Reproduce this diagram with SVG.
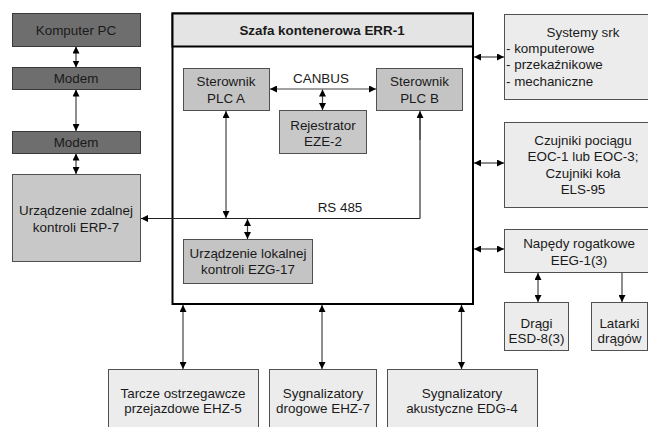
<svg xmlns="http://www.w3.org/2000/svg" width="648" height="427" viewBox="0 0 648 427">
<defs>
<marker id="ah" viewBox="0 0 10 10" refX="10" refY="5" markerWidth="7" markerHeight="7" orient="auto-start-reverse" markerUnits="userSpaceOnUse">
<path d="M0,0 L10,5 L0,10 z" fill="#000"/>
</marker>
<style>
text{font-family:"Liberation Sans",Arial,sans-serif;font-size:13.4px;fill:#1a1a1a;text-anchor:middle}
.dark{fill:#6e6e6e;stroke:#3a3a3a;stroke-width:1}
.mid{fill:#c4c4c4;stroke:#505050;stroke-width:1}
.light{fill:#ececec;stroke:#505050;stroke-width:1}
.c{fill:none;stroke:#444;stroke-width:1.2}
.b{marker-start:url(#ah);marker-end:url(#ah)}
.e{marker-end:url(#ah)}
.l{text-anchor:start}
</style>
</defs>
<rect width="648" height="427" fill="#fff"/>
<g id="main">
<rect x="172.5" y="13.5" width="300.5" height="290.5" fill="#fff" stroke="#000" stroke-width="2"/>
<rect x="172.5" y="13.5" width="300.5" height="33" fill="#e4e4e4" stroke="#000" stroke-width="2"/>
<text x="322" y="35" font-weight="bold">Szafa kontenerowa ERR-1</text>
</g>
<g id="pc"><rect class="dark" x="12.5" y="13.5" width="128" height="33"/><text x="76" y="34.5">Komputer PC</text></g>
<g id="modem1"><rect class="dark" x="12.5" y="67.5" width="128" height="22"/><text x="76" y="83">Modem</text></g>
<g id="modem2"><rect class="dark" x="12.5" y="131.5" width="128" height="22" fill="#787878"/><text x="76" y="147">Modem</text></g>
<g id="erp7"><rect class="mid" x="12.5" y="174.5" width="128" height="87" style="fill:#c8c8c8"/><text x="76" y="215">Urządzenie zdalnej</text><text x="76" y="232">kontroli ERP-7</text></g>
<g id="plca"><rect class="mid" x="183.5" y="68.5" width="86" height="42"/><text x="226" y="86">Sterownik</text><text x="226" y="103">PLC A</text></g>
<g id="plcb"><rect class="mid" x="376.5" y="68.5" width="86" height="42"/><text x="419.5" y="86">Sterownik</text><text x="419.5" y="103">PLC B</text></g>
<g id="eze2"><rect class="mid" x="279.5" y="110.5" width="87" height="43" style="fill:#c8c8c8"/><text x="323" y="130">Rejestrator</text><text x="323" y="146">EZE-2</text></g>
<g id="ezg17"><rect class="mid" x="183.5" y="239.5" width="129" height="44"/><text x="248" y="258">Urządzenie lokalnej</text><text x="248" y="274">kontroli EZG-17</text></g>
<g id="srk"><rect class="light" x="504.5" y="14.5" width="160" height="85"/><text x="583" y="37">Systemy srk</text><text class="l" x="506" y="53">- komputerowe</text><text class="l" x="506" y="69">- przekaźnikowe</text><text class="l" x="506" y="86">- mechaniczne</text></g>
<g id="eoc"><rect class="light" x="504.5" y="122.5" width="160" height="85"/><text x="583" y="145">Czujniki pociągu</text><text x="583" y="161">EOC-1 lub EOC-3;</text><text x="583" y="177.5">Czujniki koła</text><text x="583" y="194">ELS-95</text></g>
<g id="eeg"><rect class="light" x="504.5" y="229.5" width="160" height="43"/><text x="579" y="248">Napędy rogatkowe</text><text x="579" y="265">EEG-1(3)</text></g>
<g id="esd"><rect class="light" x="504.5" y="302.5" width="64" height="48"/><text x="536.5" y="328">Drągi</text><text x="536.5" y="343">ESD-8(3)</text></g>
<g id="latarki"><rect class="light" x="591.5" y="302.5" width="56" height="48"/><text x="619.5" y="328">Latarki</text><text x="619.5" y="343">drągów</text></g>
<g id="ehz5"><rect class="light" x="108.5" y="369.5" width="150" height="70"/><text x="183" y="398">Tarcze ostrzegawcze</text><text x="183" y="413">przejazdowe EHZ-5</text></g>
<g id="ehz7"><rect class="light" x="269.5" y="369.5" width="107" height="70"/><text x="323" y="398">Sygnalizatory</text><text x="323" y="413">drogowe EHZ-7</text></g>
<g id="edg4"><rect class="light" x="387.5" y="369.5" width="150" height="70"/><text x="462" y="398">Sygnalizatory</text><text x="462" y="413">akustyczne EDG-4</text></g>
<g id="labels"><text x="321" y="83">CANBUS</text><text x="340" y="212">RS 485</text></g>
<g id="connectors">
<line class="c b" x1="76" y1="46.5" x2="76" y2="67.5"/>
<line class="c b" x1="76" y1="89.5" x2="76" y2="131"/>
<line class="c b" x1="76" y1="153.5" x2="76" y2="174"/>
<line class="c b" x1="270" y1="89" x2="376" y2="89"/>
<line class="c b" x1="322.5" y1="89.5" x2="322.5" y2="110"/>
<polyline class="c e" points="420,218.5 141,218.5" style="stroke:#222"/>
<line class="c" x1="420" y1="218.5" x2="420" y2="115" style="stroke:#333"/>
<line class="c e" x1="420" y1="140" x2="420" y2="111"/>
<line class="c b" x1="226" y1="111" x2="226" y2="218"/>
<line class="c b" x1="247.5" y1="219" x2="247.5" y2="239"/>
<line class="c b" x1="474" y1="57" x2="504" y2="57"/>
<line class="c b" x1="474" y1="163" x2="504" y2="163"/>
<line class="c b" x1="474" y1="249" x2="504" y2="249"/>
<line class="c b" x1="538" y1="273" x2="538" y2="302"/>
<line class="c e" x1="622" y1="273" x2="622" y2="302"/>
<line class="c b" x1="183" y1="305" x2="183" y2="369"/>
<line class="c b" x1="322" y1="305" x2="322" y2="369"/>
<line class="c b" x1="461.5" y1="305" x2="461.5" y2="369"/>
</g>
</svg>
